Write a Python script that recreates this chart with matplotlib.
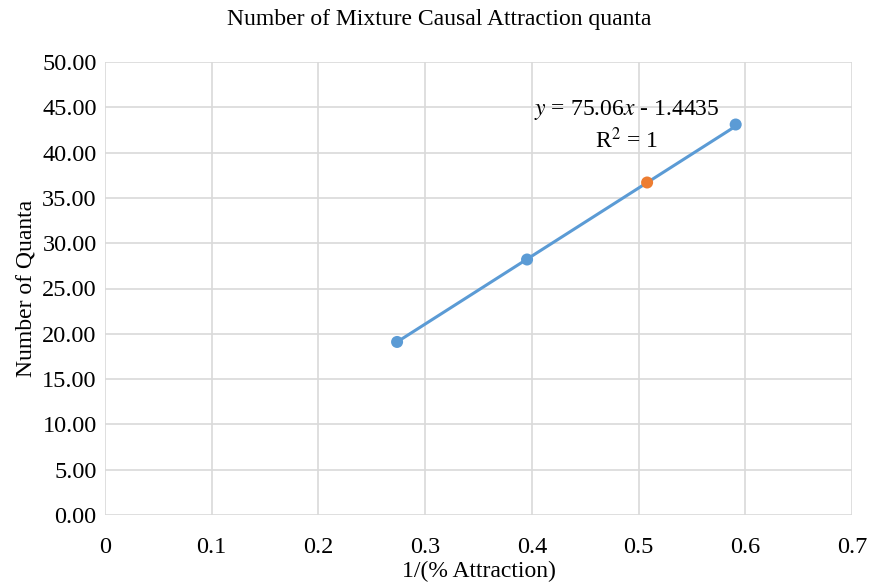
import matplotlib
matplotlib.use("Agg")
import matplotlib.pyplot as plt
import numpy as np

plt.rcParams['font.family'] = ['Liberation Serif', 'DejaVu Serif']

x_blue = [0.2737, 0.3955, 0.591]
y_blue = [19.10, 28.20, 43.10]
x_orange = [0.508]
y_orange = [36.70]
slope, intercept = 75.06, -1.4435
xticks = [0, 0.1, 0.2, 0.3, 0.4, 0.5, 0.6, 0.7]
xtick_labels = ['0', '0.1', '0.2', '0.3', '0.4', '0.5', '0.6', '0.7']
yticks = np.arange(0, 50.01, 5)

fig = plt.figure(figsize=(8.78, 5.86), dpi=100)
ax = fig.add_axes([105/878, 1-515/586, (852-105)/878, (515-62)/586])

xs = np.array([min(x_blue), max(x_blue)])
ax.plot(xs, slope*xs + intercept, color='#5B9BD5', lw=2.2, zorder=2)
ax.scatter(x_blue, y_blue, s=75, color='#5B9BD5', zorder=3, edgecolors='none')
ax.scatter(x_orange, y_orange, s=75, color='#ED7D31', zorder=3, edgecolors='none')

ax.set_xlim(0, 0.7)
ax.set_ylim(0, 50)
ax.set_xticks(xticks)
ax.set_xticklabels(xtick_labels)
ax.set_yticks(yticks)
ax.set_yticklabels([f'{v:.2f}' for v in yticks])
ax.grid(True, color='#D9D9D9', lw=1.2)
ax.set_axisbelow(True)
for s in ax.spines.values():
    s.set_visible(False)
ax.tick_params(length=0, labelsize=17.5, pad=6)
ax.tick_params(axis='x', pad=16)

ax.set_xlabel('1/(% Attraction)', fontsize=17, labelpad=2)
ax.set_ylabel('Number of Quanta', fontsize=17, labelpad=4)
fig.text(0.5, 1-20/586, 'Number of Mixture Causal Attraction quanta', ha='center', va='center', fontsize=17)

ax.text(0.5755, 44.7, r'$\it{y}$ = 75.06$\it{x}$ - 1.4435', ha='right', va='center', fontsize=17,
        math_fontfamily='stix')
ax.text(0.489, 41.4, 'R$^2$ = 1', ha='center', va='center', fontsize=17, math_fontfamily='stix')

fig.savefig('out.png', dpi=100)
